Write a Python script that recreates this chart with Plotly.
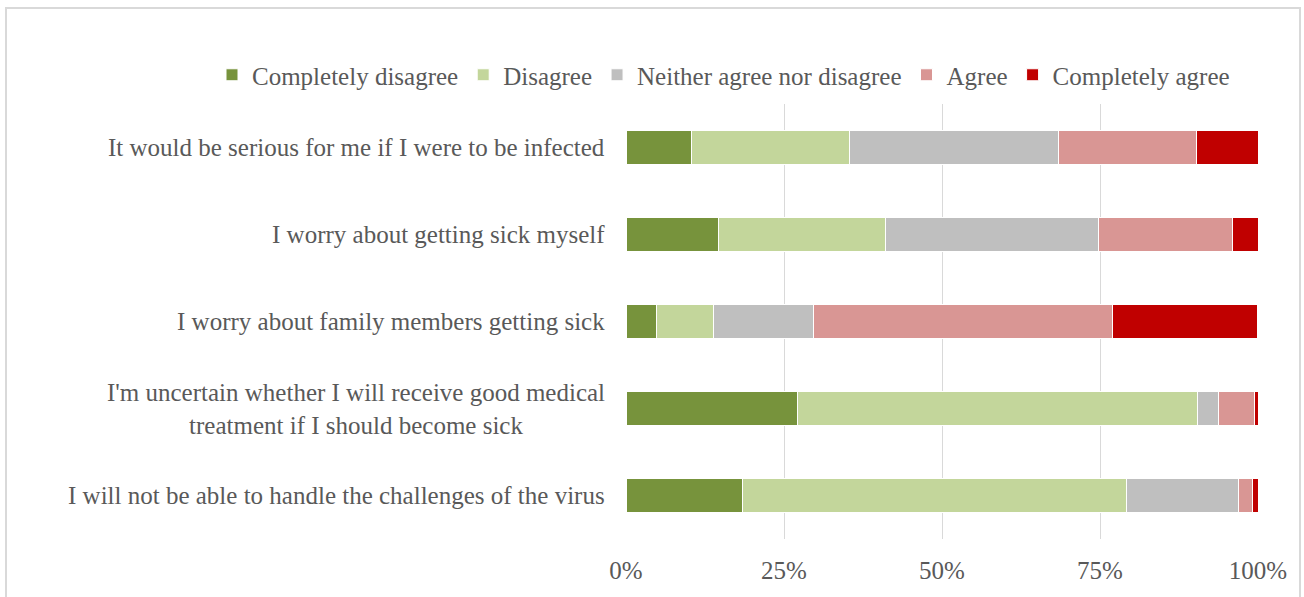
import plotly.graph_objects as go

categories = [
    "It would be serious for me if I were to be infected",
    "I worry about getting sick myself",
    "I worry about family members getting sick",
    "I'm uncertain whether I will receive good medical<br>treatment if I should become sick",
    "I will not be able to handle the challenges of the virus",
]
series_names = ["Completely disagree", "Disagree", "Neither agree nor disagree", "Agree", "Completely agree"]
completely_disagree = [10.3, 14.6, 4.9, 27.1, 18.4]
disagree = [25.1, 26.4, 9.0, 63.4, 60.8]
neither = [33.0, 33.7, 15.8, 3.2, 17.7]
agree = [21.9, 21.2, 47.3, 5.7, 2.2]
completely_agree = [9.7, 4.1, 22.9, 0.6, 0.9]
colors = ["#77933C", "#C3D69B", "#BFBFBF", "#D99694", "#C00000"]
tick_vals = [0, 25, 50, 75, 100]
tick_text = ["0%", "25%", "50%", "75%", "100%"]

FONT = "Liberation Serif"
GREY = "#595959"
FS = 25

fig = go.Figure()
for name, vals, col in zip(series_names,
                           [completely_disagree, disagree, neither, agree, completely_agree],
                           colors):
    fig.add_trace(go.Bar(
        y=categories, x=vals, name=name, orientation="h",
        marker=dict(color=col, line=dict(color="white", width=1)),
    ))

for cat in categories:
    fig.add_annotation(x=0, y=cat, xref="paper", yref="y", text=cat,
                       xanchor="right", yanchor="middle", xshift=-19, align="center",
                       showarrow=False, font=dict(family=FONT, size=FS, color=GREY))

fig.update_layout(
    barmode="stack",
    bargap=0.6,
    width=1304, height=597,
    margin=dict(l=626, r=46, t=104, b=58, autoexpand=False),
    paper_bgcolor="white", plot_bgcolor="white",
    font=dict(family=FONT, size=FS, color=GREY),
    legend=dict(orientation="h", xref="paper", yref="paper",
                x=(212 - 626) / 632, xanchor="left", y=1 + (104 - 75) / 435, yanchor="middle",
                bgcolor="rgba(0,0,0,0)",
                font=dict(family=FONT, size=FS, color=GREY), traceorder="normal",
                itemwidth=30),
    xaxis=dict(range=[0, 100], tickvals=tick_vals, ticktext=tick_text,
               showgrid=True, gridcolor="#D9D9D9", gridwidth=1,
               zeroline=False, showline=False, ticks="", ticklabelstandoff=14,
               tickfont=dict(family=FONT, size=FS, color=GREY)),
    yaxis=dict(autorange="reversed", showticklabels=False, showgrid=False,
               zeroline=False, showline=False, ticks=""),
    shapes=[dict(type="rect", xref="paper", yref="paper",
                 x0=(6 - 626) / 632, x1=(1300 - 626) / 632,
                 y0=-0.2, y1=1 + (104 - 8) / 435,
                 line=dict(color="#D9D9D9", width=2), fillcolor="rgba(0,0,0,0)",
                 layer="below")],
)

fig.write_html("out.html", config={"displayModeBar": False},
               post_script="document.body.style.margin='0';")
